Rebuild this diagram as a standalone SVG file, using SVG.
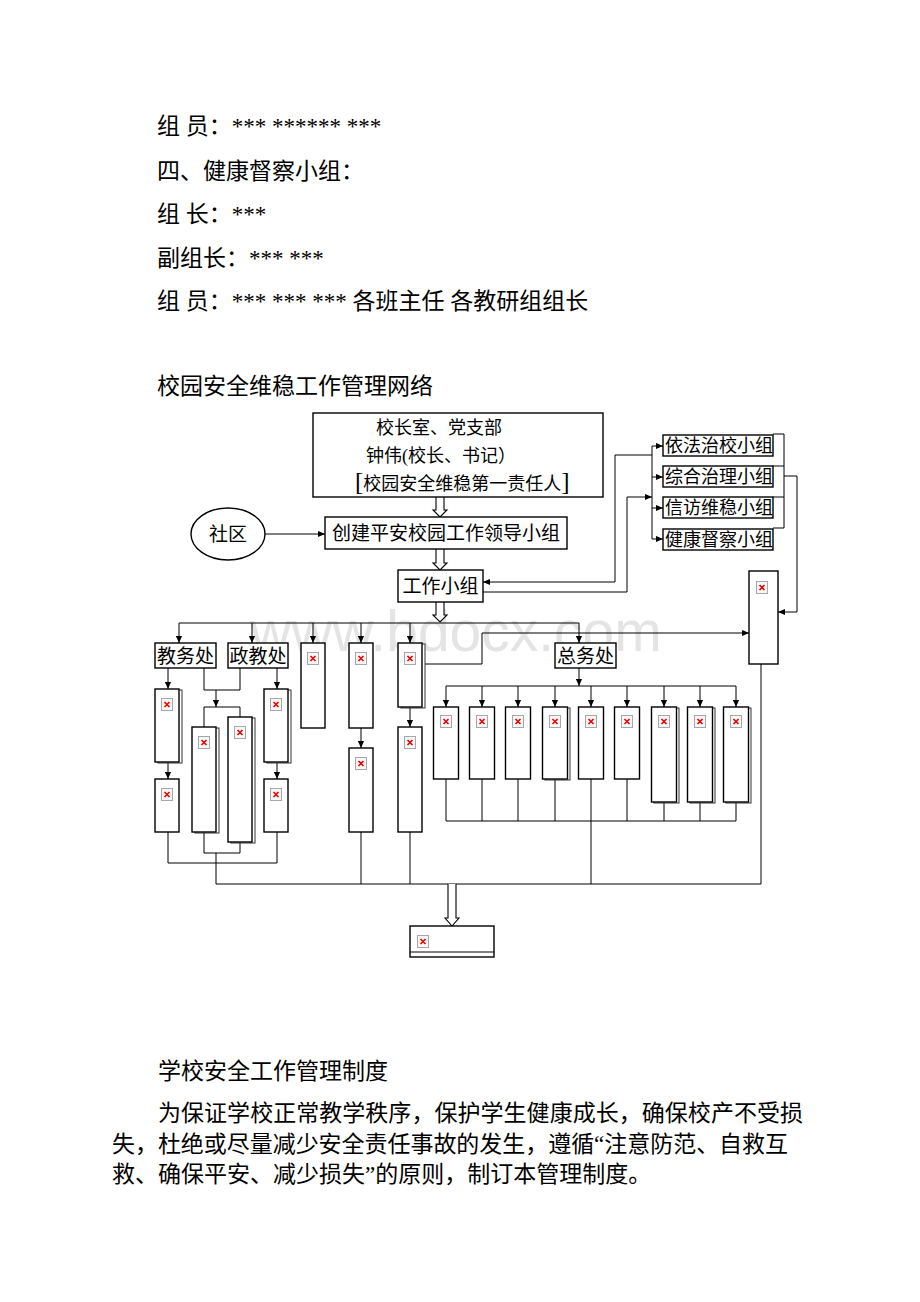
<svg xmlns="http://www.w3.org/2000/svg" width="920" height="1302" viewBox="0 0 920 1302">
<style>
.bg{fill:#fff}
.t{font-family:"Liberation Serif","Noto Sans CJK SC",serif;font-size:23px;fill:#000}
.d{font-family:"Liberation Serif","Noto Sans CJK SC",serif;font-size:19px;fill:#000}
.s{font-size:18px}
.m{text-anchor:middle}
.box{fill:#fff;stroke:#000;stroke-width:1.4}
.sh{fill:#fff;stroke:#333;stroke-width:1}
.ln{fill:none;stroke:#000;stroke-width:1}
.arr{fill:none;stroke:#000;stroke-width:1;marker-end:url(#ah)}
.dbl{fill:#fff;stroke:#000;stroke-width:1.1}
.wm{font-family:"Liberation Sans",sans-serif;font-size:57px;fill:#e4e4e4}
</style>
<defs>
<marker id="ah" viewBox="0 0 8 8" refX="8" refY="4" markerWidth="7" markerHeight="7" markerUnits="userSpaceOnUse" orient="auto">
<path d="M0,0.5 L8,4 L0,7.5 z" fill="#000"/>
</marker>
<symbol id="ic" viewBox="0 0 12 13" width="12" height="13">
<rect x="0.5" y="0.5" width="11" height="12" fill="#f6f6f6" stroke="#a8a8a8" stroke-width="1"/>
<path d="M3.5,4 L8.5,9 M8.5,4 L3.5,9" stroke="#e00" stroke-width="1.6"/>
</symbol>
</defs>
<rect class="bg" x="0" y="0" width="920" height="1302"/>

<g id="body-text">
<text class="t" x="157" y="134">组 员：*** ****** ***</text>
<text class="t" x="157" y="179">四、健康督察小组：</text>
<text class="t" x="157" y="222">组 长：***</text>
<text class="t" x="157" y="266">副组长：*** ***</text>
<text class="t" x="157" y="309">组 员：*** *** *** 各班主任 各教研组组长</text>
<text class="t" x="157" y="394">校园安全维稳工作管理网络</text>
<text class="t" x="158" y="1079">学校安全工作管理制度</text>
<text class="t" x="158" y="1121" textLength="645" lengthAdjust="spacing">为保证学校正常教学秩序，保护学生健康成长，确保校产不受损</text>
<text class="t" x="112" y="1152" textLength="676" lengthAdjust="spacing">失，杜绝或尽量减少安全责任事故的发生，遵循“注意防范、自救互</text>
<text class="t" x="112" y="1182">救、确保平安、减少损失”的原则，制订本管理制度。</text>
</g>

<text class="wm" x="250" y="651">www.bdocx.com</text>

<g id="connectors">
<line class="arr" x1="265" y1="534" x2="325" y2="534"/>
<path class="dbl" d="M436,497 V510 H433 L440,517 L447,510 H444 V497"/>
<path class="dbl" d="M436,549 V563 H433 L440,570 L447,563 H444 V549"/>
<path class="dbl" d="M436,602 V615 H433 L440,622 L447,615 H444 V602"/>
<line class="ln" x1="179" y1="623" x2="579" y2="623"/>
<line class="arr" x1="179" y1="623" x2="179" y2="643"/>
<line class="arr" x1="252" y1="623" x2="252" y2="643"/>
<line class="arr" x1="313" y1="623" x2="313" y2="643"/>
<line class="arr" x1="361" y1="623" x2="361" y2="643"/>
<line class="arr" x1="410" y1="623" x2="410" y2="643"/>
<line class="arr" x1="579" y1="623" x2="579" y2="643"/>
<path class="arr" d="M652,455 H615 V582 H483"/>
<path class="arr" d="M483,592 H627 V497 H652"/>
<line class="ln" x1="652" y1="446" x2="652" y2="539"/>
<line class="arr" x1="652" y1="446" x2="663" y2="446"/>
<line class="arr" x1="652" y1="477" x2="663" y2="477"/>
<line class="arr" x1="652" y1="508" x2="663" y2="508"/>
<line class="arr" x1="652" y1="539" x2="663" y2="539"/>
<path class="arr" d="M784,476 H797 V612 H778"/>
<path class="arr" d="M422,664 H482 V633 H749"/>
<line class="arr" x1="579" y1="668" x2="579" y2="686"/>
<line class="ln" x1="446" y1="686" x2="736" y2="686"/>
<line class="arr" x1="446" y1="686" x2="446" y2="707"/>
<line class="arr" x1="482" y1="686" x2="482" y2="707"/>
<line class="arr" x1="518" y1="686" x2="518" y2="707"/>
<line class="arr" x1="555" y1="686" x2="555" y2="707"/>
<line class="arr" x1="591" y1="686" x2="591" y2="707"/>
<line class="arr" x1="627" y1="686" x2="627" y2="707"/>
<line class="arr" x1="664" y1="686" x2="664" y2="707"/>
<line class="arr" x1="700" y1="686" x2="700" y2="707"/>
<line class="arr" x1="736" y1="686" x2="736" y2="707"/>
<path class="ln" d="M446,779 V821 M482,779 V821 M518,779 V821 M555,779 V821 M591,779 V884 M627,779 V821 M664,802 V821 M700,802 V821 M736,802 V821 M446,821 H736"/>
<line class="arr" x1="168" y1="668" x2="168" y2="689"/>
<line class="arr" x1="168" y1="762" x2="168" y2="779"/>
<line class="arr" x1="277" y1="668" x2="277" y2="689"/>
<line class="arr" x1="277" y1="762" x2="277" y2="779"/>
<path class="ln" d="M204,668 V690 H240 V668"/>
<line class="arr" x1="216" y1="690" x2="216" y2="707"/>
<path class="ln" d="M204,727 V707 H240 V717"/>
<path class="ln" d="M168,832 V863 H277 V832"/>
<path class="ln" d="M204,832 V853 H240 V842"/>
<line class="ln" x1="216" y1="853" x2="216" y2="884"/>
<line class="arr" x1="361" y1="728" x2="361" y2="748"/>
<line class="arr" x1="410" y1="707" x2="410" y2="727"/>
<path class="ln" d="M361,832 V884 M410,832 V884 M761,664 V884 M216,884 H761"/>
<path class="dbl" d="M448,884 V918 H445 L452,926 L459,918 H456 V884"/>
</g>

<g id="n-top">
<rect class="box" x="313" y="413" width="290" height="84"/>
<text class="d s" x="376" y="434">校长室、党支部</text>
<text class="d s" x="366" y="462">钟伟(校长、书记）</text>
<text class="d s" x="355" y="490"><tspan font-size="25">[</tspan>校园安全维稳第一责任人<tspan font-size="25">]</tspan></text>
</g>
<g id="n-community">
<ellipse class="box" cx="228" cy="534" rx="37" ry="26"/>
<text class="d m" x="228" y="541" font-size="20">社区</text>
</g>
<g id="n-lead">
<rect class="box" x="325" y="517" width="242" height="32"/>
<text class="d m" x="446" y="540">创建平安校园工作领导小组</text>
</g>
<g id="n-work">
<rect class="box" x="398" y="570" width="85" height="32"/>
<text class="d m" x="440.5" y="593">工作小组</text>
</g>
<g id="n-groups">
<path class="ln" d="M773,434 H784 V528 H773 M773,466 H784 M773,497 H784" stroke-width="1.4"/>
<rect class="box" x="663" y="435" width="110" height="21"/>
<text class="d s" x="665" y="452">依法治校小组</text>
<rect class="box" x="663" y="466" width="110" height="21"/>
<text class="d s" x="665" y="483">综合治理小组</text>
<rect class="box" x="663" y="497" width="110" height="21"/>
<text class="d s" x="665" y="514">信访维稳小组</text>
<rect class="box" x="663" y="529" width="110" height="21"/>
<text class="d s" x="665" y="546">健康督察小组</text>
</g>
<g id="n-tall">
<rect class="box" x="749" y="571" width="29" height="93"/>
<use href="#ic" x="756" y="581"/>
</g>
<g id="n-jiaowu">
<rect class="box" x="155" y="643" width="61" height="25"/>
<text class="d m" x="185.5" y="663">教务处</text>
</g>
<g id="n-zhengjiao">
<rect class="box" x="228" y="643" width="60" height="25"/>
<text class="d m" x="258" y="663">政教处</text>
</g>
<g id="n-zongwu">
<rect class="box" x="555" y="643" width="61" height="25"/>
<text class="d m" x="585.5" y="663">总务处</text>
</g>
<g id="n-a1"><rect class="sh" x="158" y="690" width="24" height="73"/><rect class="box" x="155" y="689" width="24" height="73"/><use href="#ic" x="161" y="698"/></g>
<g id="n-a2"><rect class="box" x="155" y="779" width="24" height="53"/><use href="#ic" x="161" y="788"/></g>
<g id="n-b1"><rect class="sh" x="267" y="690" width="24" height="73"/><rect class="box" x="264" y="689" width="24" height="73"/><use href="#ic" x="270" y="698"/></g>
<g id="n-b2"><rect class="box" x="264" y="779" width="24" height="53"/><use href="#ic" x="270" y="788"/></g>
<g id="n-c1"><rect class="sh" x="195" y="728" width="24" height="105"/><rect class="box" x="192" y="727" width="24" height="105"/><use href="#ic" x="198" y="736"/></g>
<g id="n-c2"><rect class="sh" x="231" y="718" width="24" height="125"/><rect class="box" x="228" y="717" width="24" height="125"/><use href="#ic" x="234" y="726"/></g>
<g id="n-d1"><rect class="box" x="301" y="643" width="24" height="85"/><use href="#ic" x="307" y="652"/></g>
<g id="n-e1"><rect class="box" x="349" y="643" width="24" height="85"/><use href="#ic" x="355" y="652"/></g>
<g id="n-e2"><rect class="box" x="349" y="748" width="24" height="84"/><use href="#ic" x="355" y="757"/></g>
<g id="n-f1"><rect class="sh" x="401" y="644" width="24" height="64"/><rect class="box" x="398" y="643" width="24" height="64"/><use href="#ic" x="404" y="652"/></g>
<g id="n-f2"><rect class="box" x="398" y="727" width="24" height="105"/><use href="#ic" x="404" y="736"/></g>
<g id="n-g1"><rect class="box" x="433.5" y="707" width="25" height="72"/><use href="#ic" x="440" y="715"/></g>
<g id="n-g2"><rect class="box" x="469.5" y="707" width="25" height="72"/><use href="#ic" x="476" y="715"/></g>
<g id="n-g3"><rect class="box" x="505.5" y="707" width="25" height="72"/><use href="#ic" x="512" y="715"/></g>
<g id="n-g4"><rect class="sh" x="545" y="708" width="25" height="72"/><rect class="box" x="542.5" y="707" width="25" height="72"/><use href="#ic" x="549" y="715"/></g>
<g id="n-g5"><rect class="box" x="578.5" y="707" width="25" height="72"/><use href="#ic" x="585" y="715"/></g>
<g id="n-g6"><rect class="box" x="614.5" y="707" width="25" height="72"/><use href="#ic" x="621" y="715"/></g>
<g id="n-g7"><rect class="sh" x="654" y="708" width="25" height="95"/><rect class="box" x="651.5" y="707" width="25" height="95"/><use href="#ic" x="658" y="715"/></g>
<g id="n-g8"><rect class="sh" x="690" y="708" width="25" height="95"/><rect class="box" x="687.5" y="707" width="25" height="95"/><use href="#ic" x="694" y="715"/></g>
<g id="n-g9"><rect class="sh" x="726" y="708" width="25" height="95"/><rect class="box" x="723.5" y="707" width="25" height="95"/><use href="#ic" x="730" y="715"/></g>
<g id="n-bottom">
<rect class="box" x="410" y="926" width="84" height="31"/>
<line class="ln" x1="410" y1="952" x2="494" y2="952"/>
<use href="#ic" x="417" y="935"/>
</g>
</svg>
